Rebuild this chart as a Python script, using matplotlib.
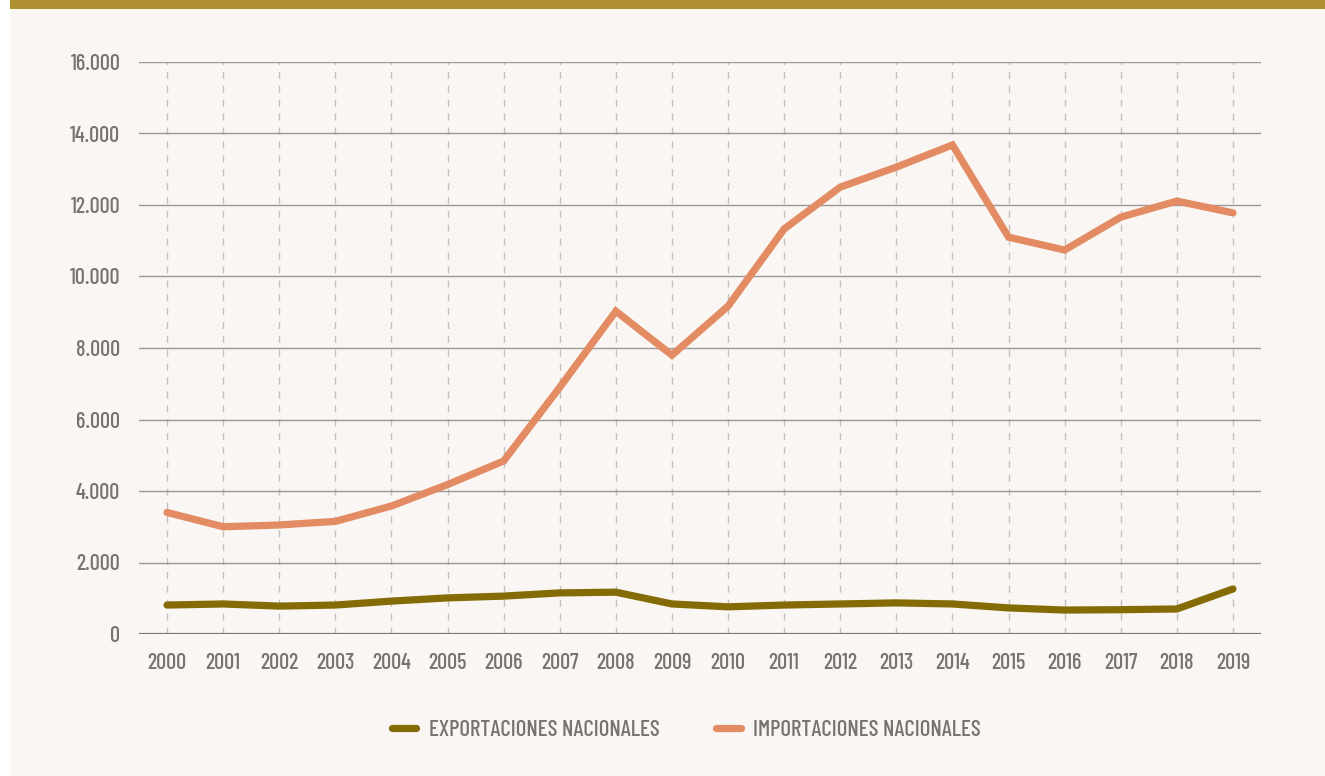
import matplotlib.pyplot as plt
import matplotlib.patches as mpatches
from matplotlib.lines import Line2D

years = [str(y) for y in range(2000, 2020)]
exportaciones = [810, 840, 780, 810, 920, 1010, 1060, 1150, 1170, 840,
                 760, 810, 840, 870, 840, 730, 670, 680, 700, 1260]
importaciones = [3400, 3000, 3050, 3150, 3580, 4180, 4840, 6900, 9030, 7800,
                 9170, 11330, 12500, 13060, 13680, 11100, 10740, 11660, 12110, 11780]
y_ticks = [0, 2000, 4000, 6000, 8000, 10000, 12000, 14000, 16000]

col_exp = "#856b06"
col_imp = "#e38b62"
col_text = "#767371"
bg = "#f9f6f3"

plt.rcParams["font.family"] = ["Barlow Condensed", "DejaVu Sans"]
plt.rcParams["font.weight"] = 500

fig = plt.figure(figsize=(13.25, 7.76), dpi=100, facecolor=bg)
fig.patches.append(mpatches.Rectangle((0, 0), 10 / 1325, 1, transform=fig.transFigure,
                                      facecolor="white", edgecolor="none", zorder=0))
fig.patches.append(mpatches.Rectangle((10 / 1325, 1 - 9 / 776), 1, 9 / 776, transform=fig.transFigure,
                                      facecolor="#af9030", edgecolor="none", zorder=0))

ax = fig.add_axes([139 / 1325, 142 / 776, 1122 / 1325, 572 / 776])
ax.set_facecolor(bg)
x = list(range(len(years)))

# grid
for v in y_ticks[1:]:
    ax.axhline(v, color="#9c9896", lw=1.0, zorder=1)
ax.axhline(0, color="#7a7775", lw=1.6, zorder=1)
for xi in x:
    ax.axvline(xi, color="#c4c0bd", lw=1.0, ls=(0, (5, 5)), zorder=0.5)

ax.plot(x, importaciones, color=col_imp, lw=5.2, solid_capstyle="round",
        solid_joinstyle="miter", zorder=3, clip_on=False)
ax.plot(x, exportaciones, color=col_exp, lw=5.2, solid_capstyle="round",
        solid_joinstyle="miter", zorder=3, clip_on=False)

ax.set_xlim(-0.5, 19.5)
ax.set_ylim(0, 16000)
ax.set_xticks(x)
ax.set_xticklabels(years)
ax.set_yticks(y_ticks)
ax.set_yticklabels([f"{v:,}".replace(",", ".") for v in y_ticks])
ax.tick_params(axis="both", length=0, colors=col_text, labelsize=16)
ax.tick_params(axis="x", pad=14)
ax.tick_params(axis="y", pad=13.5)
for s in ax.spines.values():
    s.set_visible(False)

handles = [Line2D([0], [0], color=col_exp, lw=5.2, solid_capstyle="round"),
           Line2D([0], [0], color=col_imp, lw=5.2, solid_capstyle="round")]
leg = fig.legend(handles, ["EXPORTACIONES NACIONALES", "IMPORTACIONES NACIONALES"],
                 loc="center", bbox_to_anchor=(0.518, 1 - 730 / 776), ncol=2, frameon=False,
                 handlelength=1.05, handletextpad=0.55, columnspacing=2.5, fontsize=16.5)
for t in leg.get_texts():
    t.set_color(col_text)

fig.savefig("out.png", dpi=100, facecolor=bg)
